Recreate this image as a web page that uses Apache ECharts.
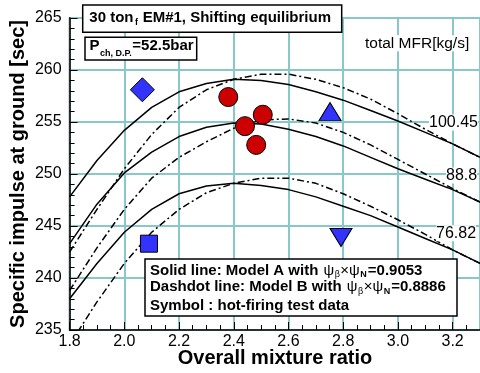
<!DOCTYPE html>
<html><head><meta charset="utf-8">
<script src="https://cdn.jsdelivr.net/npm/echarts@6/dist/echarts.min.js"></script>
<style>html,body{margin:0;padding:0;background:#fff}#c{width:480px;height:373px}</style>
</head><body><div id="c"></div>
<script>
// ---- data ----
const mixRatio = [1.8,1.9,2.0,2.1,2.2,2.3,2.4,2.5,2.6,2.7,2.8,2.9,3.0,3.1,3.2,3.3];
const ispA_100 = [247.8,251.3,254.2,256.4,257.9,258.7,259.1,259.0,258.6,257.9,257.1,256.1,255.1,254.0,252.9,251.6];
const ispB_100 = [242.5,246.6,250.5,253.8,256.4,258.1,259.1,259.6,259.6,259.1,258.3,257.2,255.8,254.3,252.9,251.6];
const ispA_888 = [243.3,247.1,250.1,252.1,253.6,254.5,254.9,254.8,254.3,253.6,252.7,251.6,250.5,249.5,248.5,247.3];
const ispB_888 = [238.8,242.9,246.6,249.6,251.6,253.1,254.4,255.2,255.3,254.9,254.0,252.8,251.4,250.0,248.6,247.3];
const ispA_7682 = [238.0,241.4,244.4,246.6,248.1,248.85,249.1,248.9,248.5,247.8,246.9,246.0,244.9,243.8,242.7,241.4];
const ispB_7682 = [233.6,237.7,241.4,244.4,246.6,248.2,249.1,249.6,249.6,249.1,248.1,246.9,245.6,244.2,242.7,241.4];
const testDiamond = [[2.066,258.1]];
const testSquare = [[2.09,243.3]];
const testTriUp = [[2.752,256.0]];
const testTriDown = [[2.792,243.9]];
const testCircles = [[2.380,257.4],[2.506,255.7],[2.441,254.6],[2.482,252.8]];
const mfrLabels = ['100.45','88.8','76.82'];
const xMin = 1.8, xMax = 3.3, xStep = 0.2;
const yMin = 235, yMax = 265, yStep = 5;

const F = "'Liberation Sans', Arial, sans-serif";
const chart = echarts.init(document.getElementById('c'), null, {renderer:'canvas'});

function pairs(ys){ return mixRatio.map((x,i)=>[x, ys[i]]); }
function lineS(ys, dashed){
  return {type:'line', data:pairs(ys), symbol:'none', showSymbol:false, silent:true, z:3,
    lineStyle:{color:'#000', width:1.5, type: dashed ? [7,3,2,3] : 'solid'}};
}
function scat(data, symbol, size, color, rot){
  return {type:'scatter', data:data, symbol:symbol, symbolSize:size, symbolRotate:rot||0, z:5, silent:true,
    itemStyle:{color:color, borderColor:'#000', borderWidth:1, opacity:1}};
}
const blue = '#3333ff', red = '#cc0000';

const mctx = document.createElement('canvas').getContext('2d');
function tw(font, s){ mctx.font = font; return mctx.measureText(s).width; }
function T(x, y, text, font, extra){
  return {type:'text', x:x, y:y, z:110, silent:true,
    style:Object.assign({text:text, font:font, fill:'#000', align:'left', textAlign:'left',
      verticalAlign:'middle', textVerticalAlign:'middle'}, extra||{})};
}
// a row of text pieces laid out one after another (for subscripts)
function row(x, y, pieces){
  let cx = x; const out = [];
  pieces.forEach(p => { out.push(T(cx, y + (p.dy||0), p.t, p.f)); cx += tw(p.f, p.t) + (p.gap||0); });
  return out;
}
const B15 = 'bold 15px '+F, N15 = '15px '+F, B9 = 'bold 9px '+F, N9 = '9px '+F;

function legendRow(y, head, val){
  return row(150, y, [
    {t:head, f:B15, gap:1}, {t:'ψ', f:N15, gap:0.5}, {t:'β', f:N9, dy:4, gap:0.5},
    {t:'×ψ', f:N15, gap:0.5}, {t:'N', f:B9, dy:4.5, gap:1}, {t:val, f:B15}]);
}

const graphics = [].concat(
  [{type:'rect', z:100, silent:true, shape:{x:82.7,y:5,width:259,height:27.3}, style:{fill:'#fff', stroke:'#000', lineWidth:1.5}}],
  row(89.3, 17.5, [{t:'30 ton', f:B15, gap:1.5}, {t:'f', f:B9, dy:5, gap:0.5}, {t:' EM#1, Shifting equilibrium', f:B15}]),
  [{type:'rect', z:100, silent:true, shape:{x:85,y:37.3,width:111.7,height:22.7}, style:{fill:'#fff', stroke:'#000', lineWidth:1.5}}],
  row(89.5, 45.5, [{t:'P', f:B15, gap:0.5}, {t:'ch, D.P.', f:B9, dy:8, gap:0.5}, {t:'=52.5bar', f:B15}]),
  [
    T(365, 43.3, 'total MFR[kg/s]', '15.5px '+F, {backgroundColor:'#fff'}),
    T(429, 122.5, mfrLabels[0], '16px '+F, {backgroundColor:'#fff'}),
    T(446, 175.5, mfrLabels[1], '16px '+F, {backgroundColor:'#fff'}),
    T(436, 233.3, mfrLabels[2], '16px '+F, {backgroundColor:'#fff'}),
    {type:'rect', z:100, silent:true, shape:{x:145,y:259,width:312,height:57}, style:{fill:'#fff', stroke:'#000', lineWidth:1.5}}
  ],
  legendRow(270.5, 'Solid line: Model A with ', '=0.9053'),
  legendRow(287.3, 'Dashdot line: Model B with ', '=0.8886'),
  row(150, 305.5, [{t:'Symbol : hot-firing test data', f:B15}]),
  [
    T(275, 358, 'Overall mixture ratio', 'bold 20px '+F, {align:'center', textAlign:'center'}),
    Object.assign(T(18, 174, 'Specific impulse at ground [sec]', 'bold 20px '+F, {align:'center', textAlign:'center'}), {rotation:Math.PI/2})
  ]
);

const axisCommon = {
  axisLine:{show:true, onZero:false, lineStyle:{color:'#000', width:1.5}},
  axisTick:{show:true, inside:true, length:8, lineStyle:{color:'#000', width:1}},
  splitLine:{show:true, lineStyle:{color:'#88c8c8', width:2}},
};

chart.setOption({
  animation:false,
  backgroundColor:'#fff',
  grid:{left:69.6, right:0, top:18, bottom:43, show:true, borderColor:'#000', borderWidth:1.5, containLabel:false},
  xAxis:Object.assign({type:'value', min:xMin, max:xMax, interval:xStep,
    axisLabel:{fontFamily:F, fontSize:16, color:'#000', margin:4, showMaxLabel:false, formatter:v=>v.toFixed(1)},
    minorTick:{show:true, splitNumber:4, length:5, lineStyle:{color:'#000', width:1}}}, axisCommon),
  yAxis:Object.assign({type:'value', min:yMin, max:yMax, interval:yStep,
    axisLabel:{fontFamily:F, fontSize:16, color:'#000', margin:8},
    minorTick:{show:true, splitNumber:5, length:5, lineStyle:{color:'#000', width:1}}}, axisCommon),
  series:[
    lineS(ispA_100,false), lineS(ispB_100,true),
    lineS(ispA_888,false), lineS(ispB_888,true),
    lineS(ispA_7682,false), lineS(ispB_7682,true),
    scat(testDiamond,'diamond',[24,24],blue),
    scat(testSquare,'rect',[17,17],blue),
    scat(testTriUp,'triangle',[22,18],blue),
    scat(testTriDown,'triangle',[22,18],blue,180),
    scat(testCircles,'circle',19,red)
  ],
  graphic:graphics
});
</script></body></html>
